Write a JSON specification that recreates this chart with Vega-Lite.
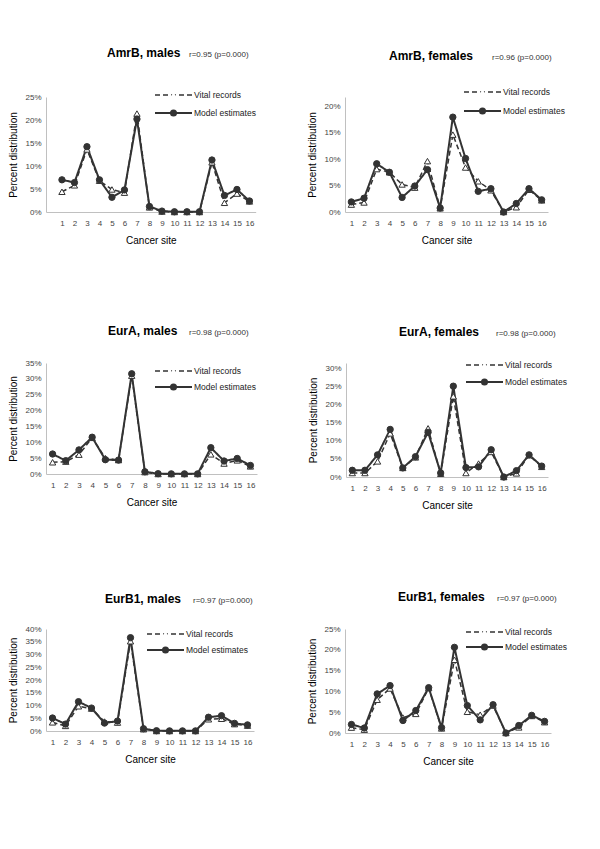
{
  "$schema": "https://vega.github.io/schema/vega-lite/v6.json",
  "padding": {"left": 8, "top": 47, "right": 5, "bottom": 5},
  "data": {"values": [
    {"panel":1,"site":1,"Vital records":0.044,"Model estimates":0.070},
    {"panel":1,"site":2,"Vital records":0.058,"Model estimates":0.064},
    {"panel":1,"site":3,"Vital records":0.136,"Model estimates":0.142},
    {"panel":1,"site":4,"Vital records":0.068,"Model estimates":0.070},
    {"panel":1,"site":5,"Vital records":0.049,"Model estimates":0.032},
    {"panel":1,"site":6,"Vital records":0.042,"Model estimates":0.048},
    {"panel":1,"site":7,"Vital records":0.214,"Model estimates":0.202},
    {"panel":1,"site":8,"Vital records":0.010,"Model estimates":0.012},
    {"panel":1,"site":9,"Vital records":0.001,"Model estimates":0.002},
    {"panel":1,"site":10,"Vital records":0.0,"Model estimates":0.0005},
    {"panel":1,"site":11,"Vital records":0.0,"Model estimates":0.0005},
    {"panel":1,"site":12,"Vital records":0.0,"Model estimates":0.0005},
    {"panel":1,"site":13,"Vital records":0.108,"Model estimates":0.113},
    {"panel":1,"site":14,"Vital records":0.020,"Model estimates":0.036},
    {"panel":1,"site":15,"Vital records":0.040,"Model estimates":0.049},
    {"panel":1,"site":16,"Vital records":0.023,"Model estimates":0.024},
    {"panel":2,"site":1,"Vital records":0.014,"Model estimates":0.019},
    {"panel":2,"site":2,"Vital records":0.018,"Model estimates":0.026},
    {"panel":2,"site":3,"Vital records":0.081,"Model estimates":0.091},
    {"panel":2,"site":4,"Vital records":0.075,"Model estimates":0.075},
    {"panel":2,"site":5,"Vital records":0.052,"Model estimates":0.0275},
    {"panel":2,"site":6,"Vital records":0.046,"Model estimates":0.049},
    {"panel":2,"site":7,"Vital records":0.096,"Model estimates":0.080},
    {"panel":2,"site":8,"Vital records":0.007,"Model estimates":0.0075},
    {"panel":2,"site":9,"Vital records":0.146,"Model estimates":0.179},
    {"panel":2,"site":10,"Vital records":0.084,"Model estimates":0.101},
    {"panel":2,"site":11,"Vital records":0.058,"Model estimates":0.039},
    {"panel":2,"site":12,"Vital records":0.041,"Model estimates":0.044},
    {"panel":2,"site":13,"Vital records":0.0,"Model estimates":0.0},
    {"panel":2,"site":14,"Vital records":0.009,"Model estimates":0.016},
    {"panel":2,"site":15,"Vital records":0.042,"Model estimates":0.044},
    {"panel":2,"site":16,"Vital records":0.022,"Model estimates":0.023},
    {"panel":3,"site":1,"Vital records":0.037,"Model estimates":0.063},
    {"panel":3,"site":2,"Vital records":0.039,"Model estimates":0.042},
    {"panel":3,"site":3,"Vital records":0.061,"Model estimates":0.076},
    {"panel":3,"site":4,"Vital records":0.114,"Model estimates":0.116},
    {"panel":3,"site":5,"Vital records":0.050,"Model estimates":0.045},
    {"panel":3,"site":6,"Vital records":0.044,"Model estimates":0.044},
    {"panel":3,"site":7,"Vital records":0.310,"Model estimates":0.316},
    {"panel":3,"site":8,"Vital records":0.006,"Model estimates":0.007},
    {"panel":3,"site":9,"Vital records":0.0,"Model estimates":0.001},
    {"panel":3,"site":10,"Vital records":0.0,"Model estimates":0.0005},
    {"panel":3,"site":11,"Vital records":0.0,"Model estimates":0.0005},
    {"panel":3,"site":12,"Vital records":0.0,"Model estimates":0.0005},
    {"panel":3,"site":13,"Vital records":0.062,"Model estimates":0.083},
    {"panel":3,"site":14,"Vital records":0.033,"Model estimates":0.041},
    {"panel":3,"site":15,"Vital records":0.043,"Model estimates":0.049},
    {"panel":3,"site":16,"Vital records":0.024,"Model estimates":0.027},
    {"panel":4,"site":1,"Vital records":0.011,"Model estimates":0.0185},
    {"panel":4,"site":2,"Vital records":0.011,"Model estimates":0.0185},
    {"panel":4,"site":3,"Vital records":0.043,"Model estimates":0.061},
    {"panel":4,"site":4,"Vital records":0.120,"Model estimates":0.131},
    {"panel":4,"site":5,"Vital records":0.025,"Model estimates":0.025},
    {"panel":4,"site":6,"Vital records":0.054,"Model estimates":0.056},
    {"panel":4,"site":7,"Vital records":0.134,"Model estimates":0.123},
    {"panel":4,"site":8,"Vital records":0.009,"Model estimates":0.011},
    {"panel":4,"site":9,"Vital records":0.222,"Model estimates":0.250},
    {"panel":4,"site":10,"Vital records":0.011,"Model estimates":0.026},
    {"panel":4,"site":11,"Vital records":0.037,"Model estimates":0.028},
    {"panel":4,"site":12,"Vital records":0.069,"Model estimates":0.075},
    {"panel":4,"site":13,"Vital records":0.0,"Model estimates":0.0},
    {"panel":4,"site":14,"Vital records":0.010,"Model estimates":0.0175},
    {"panel":4,"site":15,"Vital records":0.060,"Model estimates":0.061},
    {"panel":4,"site":16,"Vital records":0.028,"Model estimates":0.030},
    {"panel":5,"site":1,"Vital records":0.034,"Model estimates":0.051},
    {"panel":5,"site":2,"Vital records":0.020,"Model estimates":0.027},
    {"panel":5,"site":3,"Vital records":0.097,"Model estimates":0.115},
    {"panel":5,"site":4,"Vital records":0.088,"Model estimates":0.090},
    {"panel":5,"site":5,"Vital records":0.037,"Model estimates":0.031},
    {"panel":5,"site":6,"Vital records":0.033,"Model estimates":0.039},
    {"panel":5,"site":7,"Vital records":0.352,"Model estimates":0.366},
    {"panel":5,"site":8,"Vital records":0.007,"Model estimates":0.009},
    {"panel":5,"site":9,"Vital records":0.0,"Model estimates":0.001},
    {"panel":5,"site":10,"Vital records":0.0,"Model estimates":0.0005},
    {"panel":5,"site":11,"Vital records":0.0,"Model estimates":0.0005},
    {"panel":5,"site":12,"Vital records":0.0,"Model estimates":0.0005},
    {"panel":5,"site":13,"Vital records":0.046,"Model estimates":0.054},
    {"panel":5,"site":14,"Vital records":0.048,"Model estimates":0.060},
    {"panel":5,"site":15,"Vital records":0.027,"Model estimates":0.030},
    {"panel":5,"site":16,"Vital records":0.021,"Model estimates":0.024},
    {"panel":6,"site":1,"Vital records":0.013,"Model estimates":0.0205},
    {"panel":6,"site":2,"Vital records":0.008,"Model estimates":0.012},
    {"panel":6,"site":3,"Vital records":0.080,"Model estimates":0.094},
    {"panel":6,"site":4,"Vital records":0.107,"Model estimates":0.114},
    {"panel":6,"site":5,"Vital records":0.037,"Model estimates":0.030},
    {"panel":6,"site":6,"Vital records":0.046,"Model estimates":0.054},
    {"panel":6,"site":7,"Vital records":0.108,"Model estimates":0.109},
    {"panel":6,"site":8,"Vital records":0.011,"Model estimates":0.013},
    {"panel":6,"site":9,"Vital records":0.176,"Model estimates":0.206},
    {"panel":6,"site":10,"Vital records":0.051,"Model estimates":0.066},
    {"panel":6,"site":11,"Vital records":0.044,"Model estimates":0.0315},
    {"panel":6,"site":12,"Vital records":0.066,"Model estimates":0.068},
    {"panel":6,"site":13,"Vital records":0.0,"Model estimates":0.0},
    {"panel":6,"site":14,"Vital records":0.0135,"Model estimates":0.018},
    {"panel":6,"site":15,"Vital records":0.041,"Model estimates":0.0425},
    {"panel":6,"site":16,"Vital records":0.026,"Model estimates":0.028}
  ]},
  "spacing": 80,
  "resolve": {"scale": {"shape": "independent", "fill": "independent", "strokeDash": "independent", "strokeWidth": "independent"}, "legend": {"shape": "independent", "fill": "independent", "strokeDash": "independent", "strokeWidth": "independent"}},
  "vconcat": [
    {
      "spacing": 51,
      "resolve": {"scale": {"shape": "independent", "fill": "independent", "strokeDash": "independent", "strokeWidth": "independent"}, "legend": {"shape": "independent", "fill": "independent", "strokeDash": "independent", "strokeWidth": "independent"}},
      "hconcat": [
        {
          "width": 209.7, "height": 115,
          "title": {"text": "r=0.95 (p=0.000)", "subtitle": "AmrB, males", "dx": 61, "offset": 26, "encoding": {"dx": {"value": 143}}},
          "transform": [{"filter": "datum.panel == 1"}, {"fold": ["Vital records", "Model estimates"], "as": ["series", "value"]}],
          "encoding": {
            "x": {"field": "site", "type": "quantitative", "title": "Cancer site", "scale": {"domain": [-0.276, 16.5], "nice": false, "zero": false}, "axis": {"values": [1,2,3,4,5,6,7,8,9,10,11,12,13,14,15,16]}},
            "y": {"field": "value", "type": "quantitative", "title": "Percent distribution", "scale": {"domain": [0, 0.25], "nice": false}, "axis": {"values": [0,0.05,0.1,0.15,0.2,0.25], "format": ".0%"}}
          },
          "layer": [
            {"mark": {"type": "line", "color": "#333"}, "encoding": {
              "strokeDash": {"field": "series", "type": "nominal", "scale": {"domain": ["Vital records", "Model estimates"], "range": [[5, 3], [1, 0]]},
                "legend": {"title": null, "orient": "none", "legendX": 108, "legendY": -8, "rowPadding": 6, "symbolType": "stroke", "symbolSize": 1369, "symbolStrokeColor": "#333"}},
              "strokeWidth": {"field": "series", "type": "nominal", "scale": {"domain": ["Vital records", "Model estimates"], "range": [1.5, 2]},
                "legend": {"title": null, "orient": "none", "legendX": 108, "legendY": -8, "rowPadding": 6, "symbolType": "stroke", "symbolSize": 1369, "symbolStrokeColor": "#333"}}}},
            {"mark": {"type": "point", "filled": true, "stroke": "#333", "strokeWidth": 1, "opacity": 1, "size": 40}, "encoding": {
              "fill": {"field": "series", "type": "nominal", "scale": {"domain": ["Vital records", "Model estimates", " "], "range": ["white", "#333", "#333"]},
                "legend": {"title": null, "orient": "none", "legendX": 108, "legendY": -8, "rowPadding": 6, "values": ["Vital records", "Model estimates"], "symbolSize": 50, "symbolStrokeWidth": 1, "symbolStrokeColor": "#333", "symbolOffset": 15, "labelExpr": "''"}},
              "shape": {"field": "series", "type": "nominal", "scale": {"domain": ["Vital records", "Model estimates", " "], "range": ["triangle-up", "circle", "circle"]},
                "legend": {"title": null, "orient": "none", "legendX": 108, "legendY": -8, "rowPadding": 6, "values": ["Vital records", "Model estimates"], "symbolSize": 50, "symbolStrokeWidth": 1, "symbolStrokeColor": "#333", "symbolOffset": 15, "labelExpr": "''"}}}}
          ]
        },
        {
          "width": 203, "height": 115,
          "title": {"text": "r=0.96 (p=0.000)", "subtitle": "AmrB, females", "dx": 44, "offset": 20, "encoding": {"dx": {"value": 147}}},
          "transform": [{"filter": "datum.panel == 2"}, {"fold": ["Vital records", "Model estimates"], "as": ["series", "value"]}],
          "encoding": {
            "x": {"field": "site", "type": "quantitative", "title": "Cancer site", "scale": {"domain": [0.5, 16.5], "nice": false, "zero": false}, "axis": {"values": [1,2,3,4,5,6,7,8,9,10,11,12,13,14,15,16]}},
            "y": {"field": "value", "type": "quantitative", "title": "Percent distribution", "scale": {"domain": [0, 0.217], "nice": false}, "axis": {"values": [0,0.05,0.1,0.15,0.2], "format": ".0%"}}
          },
          "layer": [
            {"mark": {"type": "line", "color": "#333"}, "encoding": {
              "strokeDash": {"field": "series", "type": "nominal", "scale": {"domain": ["Vital records", "Model estimates"], "range": [[5, 3], [1, 0]]},
                "legend": {"title": null, "orient": "none", "legendX": 118, "legendY": -11, "rowPadding": 7, "symbolType": "stroke", "symbolSize": 1369, "symbolStrokeColor": "#333"}},
              "strokeWidth": {"field": "series", "type": "nominal", "scale": {"domain": ["Vital records", "Model estimates"], "range": [1.5, 2]},
                "legend": {"title": null, "orient": "none", "legendX": 118, "legendY": -11, "rowPadding": 7, "symbolType": "stroke", "symbolSize": 1369, "symbolStrokeColor": "#333"}}}},
            {"mark": {"type": "point", "filled": true, "stroke": "#333", "strokeWidth": 1, "opacity": 1, "size": 40}, "encoding": {
              "fill": {"field": "series", "type": "nominal", "scale": {"domain": ["Vital records", "Model estimates", " "], "range": ["white", "#333", "#333"]},
                "legend": {"title": null, "orient": "none", "legendX": 118, "legendY": -11, "rowPadding": 7, "values": ["Vital records", "Model estimates"], "symbolSize": 50, "symbolStrokeWidth": 1, "symbolStrokeColor": "#333", "symbolOffset": 15, "labelExpr": "''"}},
              "shape": {"field": "series", "type": "nominal", "scale": {"domain": ["Vital records", "Model estimates", " "], "range": ["triangle-up", "circle", "circle"]},
                "legend": {"title": null, "orient": "none", "legendX": 118, "legendY": -11, "rowPadding": 7, "values": ["Vital records", "Model estimates"], "symbolSize": 50, "symbolStrokeWidth": 1, "symbolStrokeColor": "#333", "symbolOffset": 15, "labelExpr": "''"}}}}
          ]
        }
      ]
    },
    {
      "spacing": 81,
      "resolve": {"scale": {"shape": "independent", "fill": "independent", "strokeDash": "independent", "strokeWidth": "independent"}, "legend": {"shape": "independent", "fill": "independent", "strokeDash": "independent", "strokeWidth": "independent"}},
      "vconcat": [
        {
          "spacing": 51,
          "resolve": {"scale": {"shape": "independent", "fill": "independent", "strokeDash": "independent", "strokeWidth": "independent"}, "legend": {"shape": "independent", "fill": "independent", "strokeDash": "independent", "strokeWidth": "independent"}},
          "hconcat": [
            {
              "width": 211, "height": 111,
              "title": {"text": "r=0.98 (p=0.000)", "subtitle": "EurA, males", "dx": 62, "offset": 18, "encoding": {"dx": {"value": 143}}},
              "transform": [{"filter": "datum.panel == 3"}, {"fold": ["Vital records", "Model estimates"], "as": ["series", "value"]}],
              "encoding": {
                "x": {"field": "site", "type": "quantitative", "title": "Cancer site", "scale": {"domain": [0.5, 16.5], "nice": false, "zero": false}, "axis": {"values": [1,2,3,4,5,6,7,8,9,10,11,12,13,14,15,16]}},
                "y": {"field": "value", "type": "quantitative", "title": "Percent distribution", "scale": {"domain": [0, 0.35], "nice": false}, "axis": {"values": [0,0.05,0.1,0.15,0.2,0.25,0.3,0.35], "format": ".0%"}}
              },
              "layer": [
                {"mark": {"type": "line", "color": "#333"}, "encoding": {
                  "strokeDash": {"field": "series", "type": "nominal", "scale": {"domain": ["Vital records", "Model estimates"], "range": [[5, 3], [1, 0]]},
                    "legend": {"title": null, "orient": "none", "legendX": 108, "legendY": 2, "rowPadding": 4, "symbolType": "stroke", "symbolSize": 1369, "symbolStrokeColor": "#333"}},
                  "strokeWidth": {"field": "series", "type": "nominal", "scale": {"domain": ["Vital records", "Model estimates"], "range": [1.5, 2]},
                    "legend": {"title": null, "orient": "none", "legendX": 108, "legendY": 2, "rowPadding": 4, "symbolType": "stroke", "symbolSize": 1369, "symbolStrokeColor": "#333"}}}},
                {"mark": {"type": "point", "filled": true, "stroke": "#333", "strokeWidth": 1, "opacity": 1, "size": 40}, "encoding": {
                  "fill": {"field": "series", "type": "nominal", "scale": {"domain": ["Vital records", "Model estimates", " "], "range": ["white", "#333", "#333"]},
                    "legend": {"title": null, "orient": "none", "legendX": 108, "legendY": 2, "rowPadding": 4, "values": ["Vital records", "Model estimates"], "symbolSize": 50, "symbolStrokeWidth": 1, "symbolStrokeColor": "#333", "symbolOffset": 15, "labelExpr": "''"}},
                  "shape": {"field": "series", "type": "nominal", "scale": {"domain": ["Vital records", "Model estimates", " "], "range": ["triangle-up", "circle", "circle"]},
                    "legend": {"title": null, "orient": "none", "legendX": 108, "legendY": 2, "rowPadding": 4, "values": ["Vital records", "Model estimates"], "symbolSize": 50, "symbolStrokeWidth": 1, "symbolStrokeColor": "#333", "symbolOffset": 15, "labelExpr": "''"}}}}
              ]
            },
            {
              "width": 202, "height": 114,
              "title": {"text": "r=0.98 (p=0.000)", "subtitle": "EurA, females", "dx": 53, "offset": 17, "encoding": {"dx": {"value": 150}}},
              "transform": [{"filter": "datum.panel == 4"}, {"fold": ["Vital records", "Model estimates"], "as": ["series", "value"]}],
              "encoding": {
                "x": {"field": "site", "type": "quantitative", "title": "Cancer site", "scale": {"domain": [0.5, 16.5], "nice": false, "zero": false}, "axis": {"values": [1,2,3,4,5,6,7,8,9,10,11,12,13,14,15,16]}},
                "y": {"field": "value", "type": "quantitative", "title": "Percent distribution", "scale": {"domain": [0, 0.3138], "nice": false}, "axis": {"values": [0,0.05,0.1,0.15,0.2,0.25,0.3], "format": ".0%"}}
              },
              "layer": [
                {"mark": {"type": "line", "color": "#333"}, "encoding": {
                  "strokeDash": {"field": "series", "type": "nominal", "scale": {"domain": ["Vital records", "Model estimates"], "range": [[5, 3], [1, 0]]},
                    "legend": {"title": null, "orient": "none", "legendX": 119, "legendY": -4, "rowPadding": 5, "symbolType": "stroke", "symbolSize": 1369, "symbolStrokeColor": "#333"}},
                  "strokeWidth": {"field": "series", "type": "nominal", "scale": {"domain": ["Vital records", "Model estimates"], "range": [1.5, 2]},
                    "legend": {"title": null, "orient": "none", "legendX": 119, "legendY": -4, "rowPadding": 5, "symbolType": "stroke", "symbolSize": 1369, "symbolStrokeColor": "#333"}}}},
                {"mark": {"type": "point", "filled": true, "stroke": "#333", "strokeWidth": 1, "opacity": 1, "size": 40}, "encoding": {
                  "fill": {"field": "series", "type": "nominal", "scale": {"domain": ["Vital records", "Model estimates", " "], "range": ["white", "#333", "#333"]},
                    "legend": {"title": null, "orient": "none", "legendX": 119, "legendY": -4, "rowPadding": 5, "values": ["Vital records", "Model estimates"], "symbolSize": 50, "symbolStrokeWidth": 1, "symbolStrokeColor": "#333", "symbolOffset": 15, "labelExpr": "''"}},
                  "shape": {"field": "series", "type": "nominal", "scale": {"domain": ["Vital records", "Model estimates", " "], "range": ["triangle-up", "circle", "circle"]},
                    "legend": {"title": null, "orient": "none", "legendX": 119, "legendY": -4, "rowPadding": 5, "values": ["Vital records", "Model estimates"], "symbolSize": 50, "symbolStrokeWidth": 1, "symbolStrokeColor": "#333", "symbolOffset": 15, "labelExpr": "''"}}}}
              ]
            }
          ]
        },
        {
          "spacing": 53,
          "resolve": {"scale": {"shape": "independent", "fill": "independent", "strokeDash": "independent", "strokeWidth": "independent"}, "legend": {"shape": "independent", "fill": "independent", "strokeDash": "independent", "strokeWidth": "independent"}},
          "hconcat": [
            {
              "width": 208, "height": 102,
              "title": {"text": "r=0.97 (p=0.000)", "subtitle": "EurB1, males", "dx": 59, "offset": 16, "encoding": {"dx": {"value": 147}}},
              "transform": [{"filter": "datum.panel == 5"}, {"fold": ["Vital records", "Model estimates"], "as": ["series", "value"]}],
              "encoding": {
                "x": {"field": "site", "type": "quantitative", "title": "Cancer site", "scale": {"domain": [0.5, 16.5], "nice": false, "zero": false}, "axis": {"values": [1,2,3,4,5,6,7,8,9,10,11,12,13,14,15,16]}},
                "y": {"field": "value", "type": "quantitative", "title": "Percent distribution", "scale": {"domain": [0, 0.4], "nice": false}, "axis": {"values": [0,0.05,0.1,0.15,0.2,0.25,0.3,0.35,0.4], "format": ".0%"}}
              },
              "layer": [
                {"mark": {"type": "line", "color": "#333"}, "encoding": {
                  "strokeDash": {"field": "series", "type": "nominal", "scale": {"domain": ["Vital records", "Model estimates"], "range": [[5, 3], [1, 0]]},
                    "legend": {"title": null, "orient": "none", "legendX": 100, "legendY": -1, "rowPadding": 4, "symbolType": "stroke", "symbolSize": 1369, "symbolStrokeColor": "#333"}},
                  "strokeWidth": {"field": "series", "type": "nominal", "scale": {"domain": ["Vital records", "Model estimates"], "range": [1.5, 2]},
                    "legend": {"title": null, "orient": "none", "legendX": 100, "legendY": -1, "rowPadding": 4, "symbolType": "stroke", "symbolSize": 1369, "symbolStrokeColor": "#333"}}}},
                {"mark": {"type": "point", "filled": true, "stroke": "#333", "strokeWidth": 1, "opacity": 1, "size": 40}, "encoding": {
                  "fill": {"field": "series", "type": "nominal", "scale": {"domain": ["Vital records", "Model estimates", " "], "range": ["white", "#333", "#333"]},
                    "legend": {"title": null, "orient": "none", "legendX": 100, "legendY": -1, "rowPadding": 4, "values": ["Vital records", "Model estimates"], "symbolSize": 50, "symbolStrokeWidth": 1, "symbolStrokeColor": "#333", "symbolOffset": 15, "labelExpr": "''"}},
                  "shape": {"field": "series", "type": "nominal", "scale": {"domain": ["Vital records", "Model estimates", " "], "range": ["triangle-up", "circle", "circle"]},
                    "legend": {"title": null, "orient": "none", "legendX": 100, "legendY": -1, "rowPadding": 4, "values": ["Vital records", "Model estimates"], "symbolSize": 50, "symbolStrokeWidth": 1, "symbolStrokeColor": "#333", "symbolOffset": 15, "labelExpr": "''"}}}}
              ]
            },
            {
              "width": 206, "height": 104,
              "title": {"text": "r=0.97 (p=0.000)", "subtitle": "EurB1, females", "dx": 53, "offset": 18, "encoding": {"dx": {"value": 152}}},
              "transform": [{"filter": "datum.panel == 6"}, {"fold": ["Vital records", "Model estimates"], "as": ["series", "value"]}],
              "encoding": {
                "x": {"field": "site", "type": "quantitative", "title": "Cancer site", "scale": {"domain": [0.5, 16.5], "nice": false, "zero": false}, "axis": {"values": [1,2,3,4,5,6,7,8,9,10,11,12,13,14,15,16]}},
                "y": {"field": "value", "type": "quantitative", "title": "Percent distribution", "scale": {"domain": [0, 0.25], "nice": false}, "axis": {"values": [0,0.05,0.1,0.15,0.2,0.25], "format": ".0%"}}
              },
              "layer": [
                {"mark": {"type": "line", "color": "#333"}, "encoding": {
                  "strokeDash": {"field": "series", "type": "nominal", "scale": {"domain": ["Vital records", "Model estimates"], "range": [[5, 3], [1, 0]]},
                    "legend": {"title": null, "orient": "none", "legendX": 120, "legendY": -3, "rowPadding": 3, "symbolType": "stroke", "symbolSize": 1369, "symbolStrokeColor": "#333"}},
                  "strokeWidth": {"field": "series", "type": "nominal", "scale": {"domain": ["Vital records", "Model estimates"], "range": [1.5, 2]},
                    "legend": {"title": null, "orient": "none", "legendX": 120, "legendY": -3, "rowPadding": 3, "symbolType": "stroke", "symbolSize": 1369, "symbolStrokeColor": "#333"}}}},
                {"mark": {"type": "point", "filled": true, "stroke": "#333", "strokeWidth": 1, "opacity": 1, "size": 40}, "encoding": {
                  "fill": {"field": "series", "type": "nominal", "scale": {"domain": ["Vital records", "Model estimates", " "], "range": ["white", "#333", "#333"]},
                    "legend": {"title": null, "orient": "none", "legendX": 120, "legendY": -3, "rowPadding": 3, "values": ["Vital records", "Model estimates"], "symbolSize": 50, "symbolStrokeWidth": 1, "symbolStrokeColor": "#333", "symbolOffset": 15, "labelExpr": "''"}},
                  "shape": {"field": "series", "type": "nominal", "scale": {"domain": ["Vital records", "Model estimates", " "], "range": ["triangle-up", "circle", "circle"]},
                    "legend": {"title": null, "orient": "none", "legendX": 120, "legendY": -3, "rowPadding": 3, "values": ["Vital records", "Model estimates"], "symbolSize": 50, "symbolStrokeWidth": 1, "symbolStrokeColor": "#333", "symbolOffset": 15, "labelExpr": "''"}}}}
              ]
            }
          ]
        }
      ]
    }
  ],
  "config": {
    "font": "Liberation Sans",
    "view": {"stroke": null},
    "axis": {"grid": false, "ticks": false, "domainColor": "#c0c0c0", "labelFont": "Liberation Sans", "labelFontSize": 8, "labelColor": "#444", "titleFont": "Liberation Sans", "titleFontSize": 10, "titleFontWeight": "normal", "titleColor": "#000", "labelFlush": false, "labelOverlap": false},
    "axisX": {"labelPadding": 7, "titlePadding": 8},
    "axisY": {"labelPadding": 5, "titlePadding": 6},
    "legend": {"padding": 0, "labelFont": "Liberation Sans", "labelFontSize": 8.5, "labelColor": "#222", "labelOffset": 1, "clipHeight": 12, "labelLimit": 200},
    "title": {"font": "Liberation Sans", "fontSize": 8, "fontWeight": "normal", "color": "#333", "anchor": "start", "frame": "group", "subtitleFont": "Liberation Sans", "subtitleFontSize": 12, "subtitleFontWeight": "bold", "subtitleColor": "#000", "subtitlePadding": -11}
  }
}
